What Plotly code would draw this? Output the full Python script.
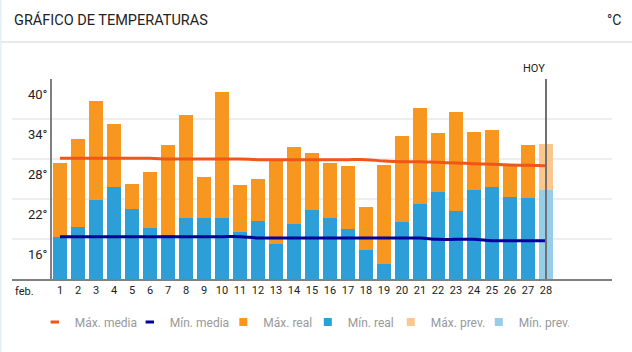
import plotly.graph_objects as go

days = list(range(1, 28))
max_real = [27.4, 31.0, 36.7, 33.2, 24.2, 26.0, 30.1, 34.6, 25.3, 38.0, 24.1, 25.0, 27.8, 29.8,
            28.9, 27.4, 26.9, 20.8, 27.1, 31.4, 35.6, 31.9, 35.0, 32.0, 32.3, 27.0, 30.1]
min_real = [16.3, 17.8, 21.9, 23.8, 20.5, 17.7, 16.6, 19.2, 19.2, 19.2, 17.0, 18.7, 15.3, 18.2,
            20.3, 19.2, 17.5, 14.3, 12.2, 18.5, 21.3, 23.0, 20.2, 23.3, 23.8, 22.3, 22.2]
prev_day = [28]
max_prev = [30.2]
min_prev = [23.3]
all_days = list(range(1, 29))
max_media = [28.1, 28.1, 28.1, 28.1, 28.1, 28.1, 28.0, 28.0, 28.0, 28.0, 28.0, 27.9, 27.9, 27.9,
             27.9, 27.9, 27.9, 27.9, 27.7, 27.6, 27.6, 27.5, 27.4, 27.3, 27.2, 27.1, 27.05, 27.0]
min_media = [16.35] * 11 + [16.15] * 10 + [15.95] * 3 + [15.75] * 4
y_ticks = [16, 22, 28, 34, 40]
y_labels = ["16°", "22°", "28°", "34°", "40°"]
x_labels = [str(d) for d in all_days]
month_label = "feb."

FONT = "Roboto, sans-serif"
C_MAXR = "#F7971F"
C_MINR = "#2C9FD8"
C_MAXP = "#FAC88E"
C_MINP = "#95CDEB"
C_MAXM = "#F0561A"
C_MINM = "#00009A"

fig = go.Figure()
fig.add_bar(x=days, y=max_real, marker=dict(color=C_MAXR, line_width=0), width=0.78,
            showlegend=False, hoverinfo="skip")
fig.add_bar(x=days, y=min_real, marker=dict(color=C_MINR, line_width=0), width=0.78,
            showlegend=False, hoverinfo="skip")
fig.add_bar(x=prev_day, y=max_prev, marker=dict(color=C_MAXP, line_width=0), width=0.78,
            showlegend=False, hoverinfo="skip")
fig.add_bar(x=prev_day, y=min_prev, marker=dict(color=C_MINP, line_width=0), width=0.78,
            showlegend=False, hoverinfo="skip")
fig.add_scatter(x=all_days, y=max_media, mode="lines", line=dict(color=C_MAXM, width=3, shape="spline"),
                showlegend=False, hoverinfo="skip")
fig.add_scatter(x=all_days, y=min_media, mode="lines", line=dict(color=C_MINM, width=3, shape="spline"),
                showlegend=False, hoverinfo="skip")

# legend entries
legend_items = [
    ("Máx. media", C_MAXM, "line-ew-open", 50),
    ("Mín. media", C_MINM, "line-ew-open", 48.5),
    ("Máx. real", C_MAXR, "square", 39.5),
    ("Mín. real", C_MINR, "square", 38),
    ("Máx. prev.", C_MAXP, "square", 43),
    ("Mín. prev.", C_MINP, "square", 45),
]
for name, col, sym, lw in legend_items:
    if sym == "square":
        mk = dict(symbol=sym, size=8, color=col, line_width=0)
    else:
        mk = dict(symbol=sym, size=6, color=col, line=dict(color=col, width=3))
    fig.add_scatter(x=[None], y=[None], mode="markers", name=name, marker=mk, legendwidth=lw)

# y axis line at start and HOY line
fig.add_shape(type="line", x0=0.5, x1=0.5, y0=10, y1=40, xref="x", yref="y",
              line=dict(color="#808080", width=2))
fig.add_shape(type="line", x0=28, x1=28, y0=10, y1=40, xref="x", yref="y",
              line=dict(color="#707070", width=2))
# header separator and left border
fig.add_shape(type="line", x0=-0.03, x1=1.04, y0=1.185, y1=1.185, xref="paper", yref="paper",
              line=dict(color="#E2E2E2", width=1.5))
fig.add_shape(type="line", x0=-0.019, x1=-0.019, y0=-0.4, y1=1.5, xref="paper", yref="paper",
              line=dict(color="#E6EEF6", width=2))

fig.add_annotation(text="GRÁFICO DE TEMPERATURAS", x=0, y=1.295, xref="paper", yref="paper",
                   xanchor="left", yanchor="middle", showarrow=False,
                   font=dict(family=FONT, size=14.5, color="#222222"))
fig.add_annotation(text="°C", x=1.018, y=1.295, xref="paper", yref="paper",
                   xanchor="right", yanchor="middle", showarrow=False,
                   font=dict(family=FONT, size=14, color="#222222"))
fig.add_annotation(text="HOY", x=28.05, y=1.055, xref="x", yref="paper",
                   xanchor="right", yanchor="middle", showarrow=False,
                   font=dict(family=FONT, size=11, color="#222222"))
fig.add_annotation(text=month_label, x=-0.95, y=-0.06, xref="x", yref="paper",
                   xanchor="center", yanchor="middle", showarrow=False,
                   font=dict(family=FONT, size=11, color="#222222"))

fig.update_layout(
    width=632, height=352,
    margin=dict(l=12, r=20, t=79, b=73),
    paper_bgcolor="white", plot_bgcolor="white",
    barmode="overlay", bargap=0,
    font=dict(family=FONT),
    legend=dict(orientation="h", x=0.038, y=-0.215, xanchor="left", yanchor="middle",
                font=dict(family=FONT, size=12, color="#999999"), itemclick=False,
                borderwidth=0, tracegroupgap=0),
    xaxis=dict(range=[-1.667, 31.667], tickmode="array", tickvals=all_days,
               ticktext=x_labels, showgrid=False, zeroline=False, showline=True,
               linecolor="#808080", linewidth=2, ticks="", automargin=False,
               tickfont=dict(family=FONT, size=11, color="#222222")),
    yaxis=dict(range=[10, 40], tickmode="array", tickvals=y_ticks, ticktext=y_labels,
               showgrid=True, gridcolor="#EEEEEE", gridwidth=2, zeroline=False, showline=False,
               ticklabelposition="inside", ticklabelstandoff=13, ticklabelshift=15, automargin=False,
               tickfont=dict(family=FONT, size=13, color="#222222")),
)

fig.write_html("out.html")
